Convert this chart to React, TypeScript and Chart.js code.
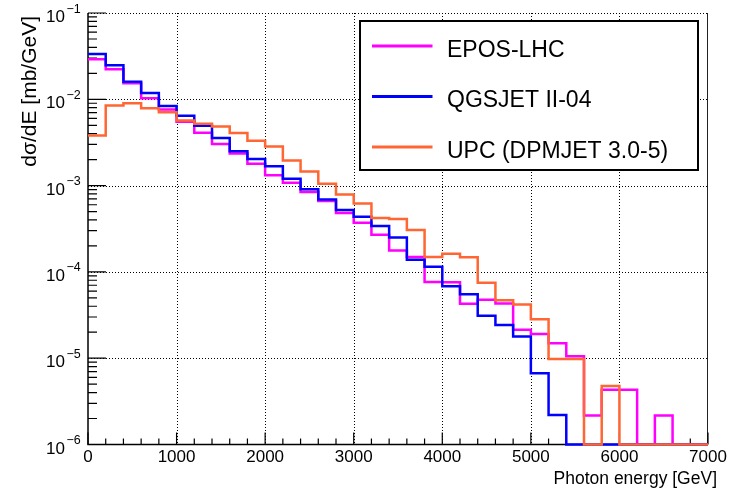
import React, { useEffect, useRef } from "react";
import { Chart, registerables } from "chart.js";

Chart.register(...registerables);

// ---- data (200 GeV bins from 0 to 7000 GeV), dσ/dE in mb/GeV; 0 = empty bin ----
const BIN_WIDTH = 200;
const X_MIN = 0;
const X_MAX = 7000;
const Y_MIN = 1e-6;
const Y_MAX = 1e-1;

const seriesNames = ["EPOS-LHC", "QGSJET II-04", "UPC (DPMJET 3.0-5)"];
const seriesColors = ["#ff00ff", "#0000ff", "#ff6633"];

const eposLhc = [
  0.0291, 0.0223, 0.0153, 0.0103, 0.0076, 0.0055, 0.0041, 0.00304, 0.00235, 0.00179,
  0.00132, 0.00108, 0.000845, 0.000665, 0.000483, 0.00037, 0.00027, 0.000177, 0.000149, 7.65e-5,
  7.6e-5, 4.27e-5, 4.75e-5, 4.3e-5, 2.13e-5, 1.91e-5, 1.49e-5, 1.05e-5, 2.17e-6, 4.3e-6,
  4.3e-6, 0, 2.17e-6, 0, 0,
];
const qgsjet = [
  0.0335, 0.0248, 0.016, 0.0118, 0.00836, 0.00643, 0.00493, 0.00356, 0.0025, 0.00204,
  0.00168, 0.0012, 0.000905, 0.00069, 0.00052, 0.000435, 0.00034, 0.00025, 0.000138, 0.000115,
  6.8e-5, 5.5e-5, 3.1e-5, 2.43e-5, 1.78e-5, 6.7e-6, 2.2e-6, 0, 0, 0,
  0, 0, 0, 0, 0,
];
const upcDpmjet = [
  0.0038, 0.0085, 0.009, 0.0079, 0.0071, 0.00568, 0.0052, 0.00484, 0.00406, 0.00332,
  0.00283, 0.00195, 0.00146, 0.00105, 0.00079, 0.00062, 0.00042, 0.00041, 0.000306, 0.000149,
  0.000162, 0.000148, 7.5e-5, 4.7e-5, 4.2e-5, 2.83e-5, 9.8e-6, 9.8e-6, 0, 4.75e-6,
  0, 0, 0, 0, 0,
];

const xTickValues = [0, 1000, 2000, 3000, 4000, 5000, 6000, 7000];
const xTickLabels = ["0", "1000", "2000", "3000", "4000", "5000", "6000", "7000"];
const yDecadeExponents = [-1, -2, -3, -4, -5, -6];
const xTitle = "Photon energy [GeV]";
const yTitle = "dσ/dE [mb/GeV]";

const FONT = '"Liberation Sans", Arial, Helvetica, sans-serif';

function histPoints(values: number[]) {
  const pts: { x: number; y: number }[] = [];
  values.forEach((v, i) => pts.push({ x: X_MIN + i * BIN_WIDTH, y: v > 0 ? v : Y_MIN }));
  const last = values[values.length - 1];
  const end = X_MIN + values.length * BIN_WIDTH;
  pts.push({ x: end, y: last > 0 ? last : Y_MIN });
  pts.push({ x: end, y: Y_MIN });
  return pts;
}

const rootStyle = {
  id: "rootStyle",
  beforeDatasetsDraw(chart: any) {
    const { ctx, chartArea: a, scales } = chart;
    const xs = scales.x;
    const ys = scales.y;
    ctx.save();
    // dotted grid
    ctx.strokeStyle = "#000";
    ctx.lineWidth = 1;
    ctx.setLineDash([1, 2]);
    ctx.beginPath();
    for (const v of xTickValues) {
      if (v === X_MIN || v === X_MAX) continue;
      const px = Math.round(xs.getPixelForValue(v)) + 0.5;
      ctx.moveTo(px, a.top);
      ctx.lineTo(px, a.bottom);
    }
    for (const e of yDecadeExponents) {
      const v = Math.pow(10, e);
      if (v <= Y_MIN) continue;
      const py = Math.round(ys.getPixelForValue(v)) + 0.5;
      ctx.moveTo(a.left, py);
      ctx.lineTo(a.right, py);
    }
    ctx.stroke();
    ctx.setLineDash([]);

    // right frame
    ctx.strokeStyle = "#222";
    ctx.lineWidth = 1;
    ctx.beginPath();
    ctx.moveTo(Math.round(a.right) - 0.5, a.top);
    ctx.lineTo(Math.round(a.right) - 0.5, a.bottom);
    ctx.stroke();

    // axes (left & bottom)
    ctx.strokeStyle = "#000";
    ctx.lineWidth = 1.5;
    ctx.beginPath();
    ctx.moveTo(a.left, a.top);
    ctx.lineTo(a.left, a.bottom);
    ctx.lineTo(a.right, a.bottom);
    ctx.stroke();

    // ticks
    ctx.lineWidth = 1.2;
    ctx.beginPath();
    for (let v = X_MIN; v <= X_MAX; v += BIN_WIDTH) {
      const px = xs.getPixelForValue(v);
      const len = v % 1000 === 0 ? 12 : 6;
      ctx.moveTo(px, a.bottom);
      ctx.lineTo(px, a.bottom - len);
    }
    for (const e of yDecadeExponents) {
      const base = Math.pow(10, e);
      for (let m = 1; m <= 9; m++) {
        const v = base * m;
        if (v < Y_MIN || v > Y_MAX * 1.0001) continue;
        const py = ys.getPixelForValue(v);
        const len = m === 1 ? 18 : 9;
        ctx.moveTo(a.left, py);
        ctx.lineTo(a.left + len, py);
      }
    }
    ctx.stroke();
    ctx.restore();
  },
  afterDraw(chart: any) {
    const { ctx, chartArea: a, scales } = chart;
    const xs = scales.x;
    const ys = scales.y;
    ctx.save();
    ctx.fillStyle = "#000";

    // x tick labels
    ctx.font = `17px ${FONT}`;
    ctx.textAlign = "center";
    ctx.textBaseline = "alphabetic";
    xTickValues.forEach((v, i) => {
      ctx.fillText(xTickLabels[i], xs.getPixelForValue(v), a.bottom + 17.5);
    });

    // y tick labels 10^e
    yDecadeExponents.forEach((e) => {
      const py = ys.getPixelForValue(Math.pow(10, e));
      ctx.font = `17px ${FONT}`;
      ctx.textAlign = "right";
      ctx.fillText("10", 65, py + 9);
      ctx.font = `12.5px ${FONT}`;
      ctx.textAlign = "left";
      ctx.fillText("−" + Math.abs(e), 66.5, py - 0.5);
    });

    // axis titles
    ctx.font = `17.5px ${FONT}`;
    ctx.textAlign = "right";
    ctx.fillText(xTitle, 717, 484);
    ctx.save();
    ctx.translate(36, 16);
    ctx.rotate(-Math.PI / 2);
    ctx.font = `21px ${FONT}`;
    ctx.textAlign = "right";
    ctx.fillText(yTitle, 0, 0);
    ctx.restore();

    // legend
    const bx = 360, by = 21, bw = 338, bh = 149;
    ctx.fillStyle = "#fff";
    ctx.fillRect(bx, by, bw, bh);
    ctx.strokeStyle = "#000";
    ctx.lineWidth = 2;
    ctx.strokeRect(bx, by, bw, bh);
    const lineYs = [46, 96.5, 147];
    chart.data.datasets.forEach((ds: any, i: number) => {
      const ly = lineYs[i];
      ctx.strokeStyle = ds.borderColor;
      ctx.lineWidth = 3;
      ctx.beginPath();
      ctx.moveTo(372, ly);
      ctx.lineTo(432.5, ly);
      ctx.stroke();
      ctx.fillStyle = "#000";
      ctx.font = `23px ${FONT}`;
      ctx.textAlign = "left";
      ctx.fillText(ds.label, 447, ly + 10.5);
    });
    ctx.restore();
  },
};

export default function App() {
  const canvasRef = useRef<HTMLCanvasElement | null>(null);

  useEffect(() => {
    if (!canvasRef.current) return;
    const seriesValues = [eposLhc, qgsjet, upcDpmjet];
    const chart = new Chart(canvasRef.current, {
      type: "line",
      data: {
        datasets: seriesValues.map((vals, i) => ({
          label: seriesNames[i],
          data: histPoints(vals),
          borderColor: seriesColors[i],
          backgroundColor: seriesColors[i],
          borderWidth: 2.5,
          pointRadius: 0,
          pointHoverRadius: 0,
          stepped: "before" as const,
          fill: false,
          tension: 0,
          clip: false as any,
          order: 2 - i,
        })),
      },
      options: {
        responsive: false,
        animation: false,
        devicePixelRatio: 1,
        layout: { padding: { top: 13, right: 24, left: 0, bottom: 0 } },
        plugins: {
          legend: { display: false },
          tooltip: { enabled: false },
          title: { display: false },
        },
        events: [],
        scales: {
          x: {
            type: "linear",
            min: X_MIN,
            max: X_MAX,
            ticks: { display: false },
            grid: { display: false },
            border: { display: false },
            afterFit: (s: any) => {
              s.height = 46.5;
            },
          },
          y: {
            type: "logarithmic",
            min: Y_MIN,
            max: Y_MAX,
            ticks: { display: false },
            grid: { display: false },
            border: { display: false },
            afterFit: (s: any) => {
              s.width = 88;
            },
          },
        },
      },
      plugins: [rootStyle],
    });
    return () => chart.destroy();
  }, []);

  return (
    <div style={{ position: "fixed", left: 0, top: 0, width: 732, height: 491, background: "#fff" }}>
      <canvas ref={canvasRef} width={732} height={491} style={{ display: "block" }} />
    </div>
  );
}
